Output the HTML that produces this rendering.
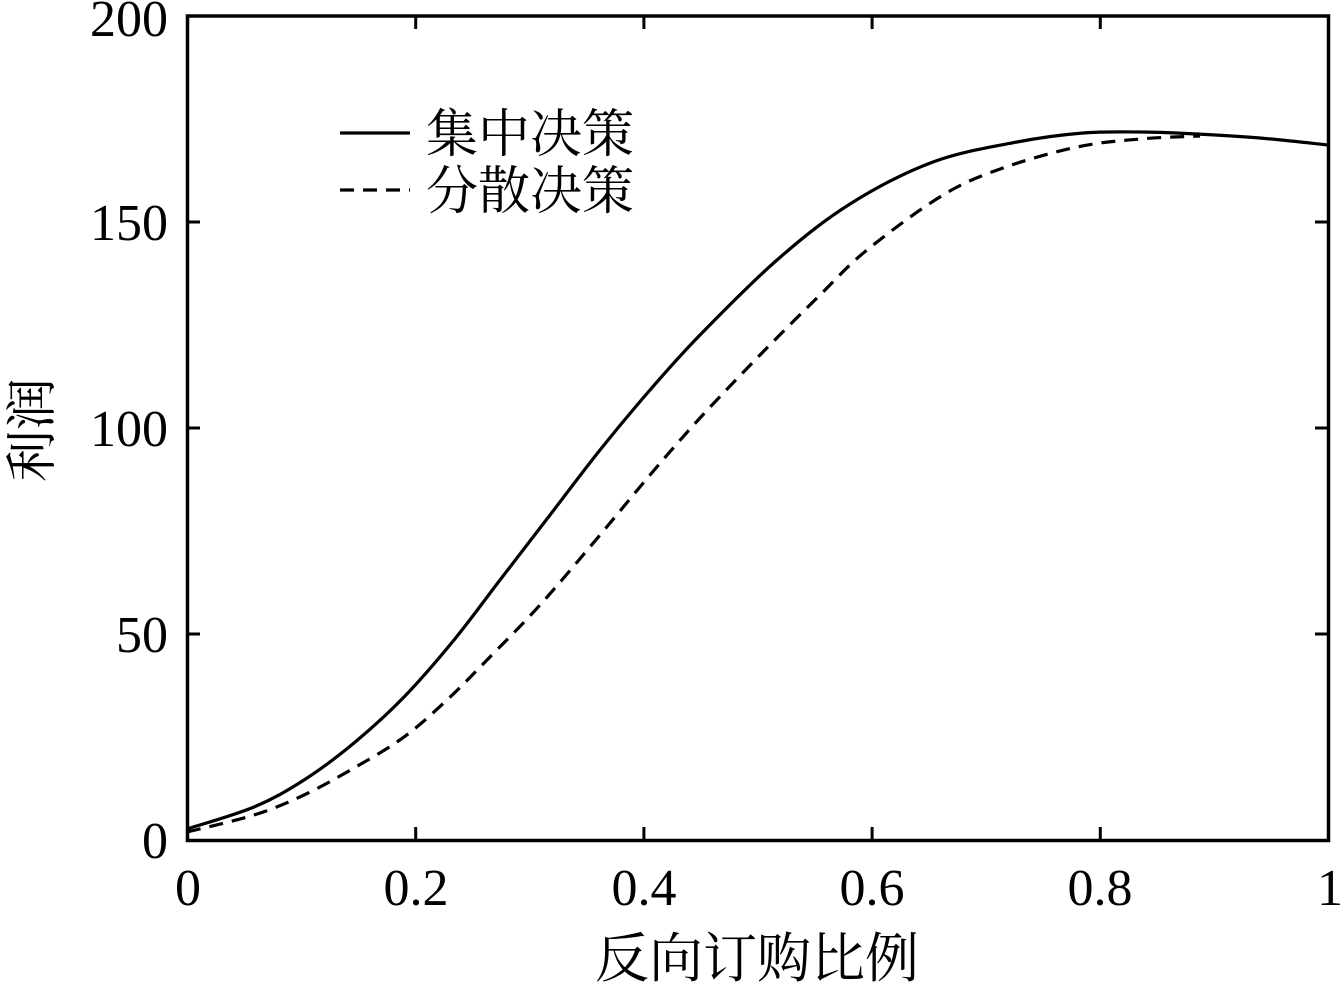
<!DOCTYPE html>
<html><head><meta charset="utf-8"><style>body{margin:0;background:#fff}</style></head><body>
<svg width="1341" height="984" xmlns="http://www.w3.org/2000/svg" font-family="Liberation Serif, Noto Serif CJK SC, serif">
<rect width="1341" height="984" fill="#fff"/>
<rect x="187.5" y="16" width="1141" height="824.5" fill="none" stroke="#000" stroke-width="3.5"/>
<g stroke="#000" stroke-width="3">
<line x1="415.7" y1="840" x2="415.7" y2="827"/><line x1="643.9" y1="840" x2="643.9" y2="827"/>
<line x1="872.1" y1="840" x2="872.1" y2="827"/><line x1="1100.3" y1="840" x2="1100.3" y2="827"/>
<line x1="415.7" y1="16" x2="415.7" y2="29"/><line x1="643.9" y1="16" x2="643.9" y2="29"/>
<line x1="872.1" y1="16" x2="872.1" y2="29"/><line x1="1100.3" y1="16" x2="1100.3" y2="29"/>
<line x1="187" y1="634" x2="200" y2="634"/><line x1="187" y1="428" x2="200" y2="428"/><line x1="187" y1="222" x2="200" y2="222"/>
<line x1="1328" y1="634" x2="1315" y2="634"/><line x1="1328" y1="428" x2="1315" y2="428"/><line x1="1328" y1="222" x2="1315" y2="222"/>
</g>
<g font-size="52" text-anchor="end">
<text x="168" y="858">0</text><text x="168" y="652">50</text><text x="168" y="446">100</text><text x="168" y="240">150</text><text x="168" y="36">200</text>
</g>
<g font-size="52" text-anchor="middle">
<text x="188" y="905">0</text><text x="416" y="905">0.2</text><text x="644" y="905">0.4</text><text x="872" y="905">0.6</text><text x="1100" y="905">0.8</text><text x="1330" y="905">1</text>
</g>
<text x="757" y="977" font-size="54" text-anchor="middle">反向订购比例</text>
<text transform="translate(50,430) rotate(-90)" font-size="52" text-anchor="middle">利润</text>
<path id="s" fill="none" stroke="#000" stroke-width="3.2" stroke-linejoin="round"/>
<path id="d" fill="none" stroke="#000" stroke-width="3.2" stroke-dasharray="14,9"/>
<line x1="340" y1="133" x2="410" y2="133" stroke="#000" stroke-width="3.2"/>
<line x1="340" y1="190" x2="410" y2="190" stroke="#000" stroke-width="3.2" stroke-dasharray="14,9"/>
<text x="426" y="152" font-size="52">集中决策</text>
<text x="426" y="209" font-size="52">分散决策</text>
</svg>
<script>
function cr(p){let d="M"+p[0][0]+","+p[0][1];for(let i=0;i<p.length-1;i++){const a=p[i-1]||p[i],b=p[i],c=p[i+1],e=p[i+2]||c;d+=" C"+(b[0]+(c[0]-a[0])/6)+","+(b[1]+(c[1]-a[1])/6)+" "+(c[0]-(e[0]-b[0])/6)+","+(c[1]-(e[1]-b[1])/6)+" "+c[0]+","+c[1];}return d;}
document.getElementById("s").setAttribute("d",cr([[187,829],[254,807],[304,780],[354,743],[404,697],[454,640],[500,580],[550,515],[600,450],[650,390],[700,335],[777,260],[850,204],[933,162],[1017,142],[1083,133],[1140,132],[1197,134],[1260,138],[1328,145]]));
document.getElementById("d").setAttribute("d",cr([[187,832],[254,815],[304,795],[354,768],[404,737],[447,700],[487,660],[540,605],[600,535],[650,475],[700,418],[760,355],[820,295],[867,250],[943,195],[1003,168],[1077,147],[1140,139],[1200,136]]));
</script>
</body></html>
